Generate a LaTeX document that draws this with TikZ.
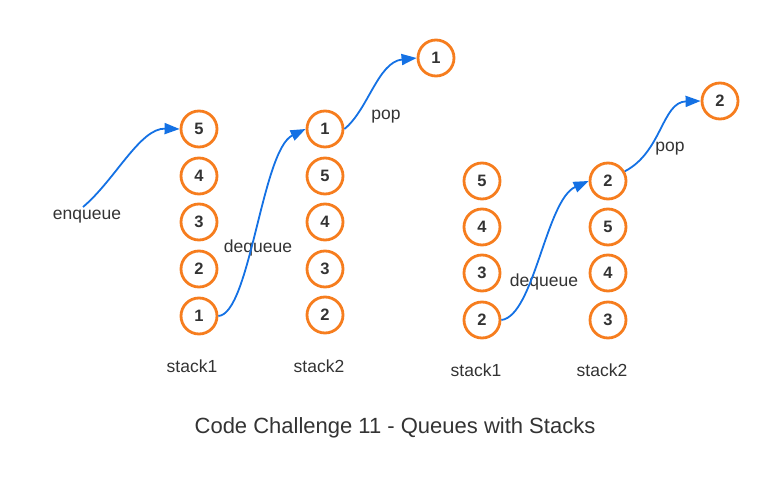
\documentclass[tikz,border=0pt]{standalone}
\usepackage{fontspec}
\setmainfont{Liberation Sans}
\usetikzlibrary{arrows.meta}
\definecolor{ringorange}{RGB}{246,125,30}
\definecolor{flowblue}{RGB}{20,113,228}
\definecolor{txtgray}{RGB}{51,51,51}
\begin{document}
\begin{tikzpicture}[x=1pt,y=-1pt,
  ball/.style={circle,draw=ringorange,line width=2.8pt,minimum size=36pt,inner sep=0pt,
    font=\fontsize{16.5}{16}\selectfont\bfseries,text=txtgray},
  lbl/.style={font=\fontsize{17.5}{18}\selectfont,text=txtgray,inner sep=0pt},
  flow/.style={draw=flowblue,line width=1.8pt,-{Triangle[length=15pt,width=11pt]}}]
\useasboundingbox (0,0) rectangle (779,494);
% left stack1
\node[ball] (a5) at (199,129) {5};
\node[ball] (a4) at (199,176) {4};
\node[ball] (a3) at (199,222) {3};
\node[ball] (a2) at (199,269) {2};
\node[ball] (a1) at (199,316) {1};
% left stack2
\node[ball] (b1) at (325,129) {1};
\node[ball] (b5) at (325,176) {5};
\node[ball] (b4) at (325,222) {4};
\node[ball] (b3) at (325,269) {3};
\node[ball] (b2) at (325,315) {2};
\node[ball] (t1) at (436,58) {1};
% right stack1
\node[ball] (c5) at (482,181) {5};
\node[ball] (c4) at (482,227) {4};
\node[ball] (c3) at (482,273) {3};
\node[ball] (c2) at (482,320) {2};
% right stack2
\node[ball] (d2) at (608,181) {2};
\node[ball] (d5) at (608,227) {5};
\node[ball] (d4) at (608,273) {4};
\node[ball] (d3) at (608,320) {3};
\node[ball] (t2) at (720,101) {2};
% labels
\node[lbl] (enq) at (87,217) {enqueue};
\node[lbl] (deq1) at (258,248) {dequeue};
\node[lbl] (pop1) at (386,117) {pop};
\node[lbl] (deq2) at (544,282) {dequeue};
\node[lbl] (pop2) at (670,149) {pop};
\node[lbl] (s1a) at (192,366) {stack1};
\node[lbl] (s2a) at (319,366) {stack2};
\node[lbl] (s1b) at (476,370) {stack1};
\node[lbl] (s2b) at (602,370) {stack2};
\node[font=\fontsize{22}{22}\selectfont,text=txtgray,inner sep=0pt] (title) at (395,428) {Code Challenge 11 - Queues with Stacks};
% connectors
\coordinate (enqstart) at (83,207);
\draw[flow] (enqstart) .. controls (115,180) and (140,128) .. (a5.west);
\draw[flow] (a1.east) .. controls (250,314) and (262,150) .. (b1.west);
\draw[flow] (b1.east) .. controls (368,110) and (378,62) .. (t1.west);
\draw[flow] (c2.east) .. controls (534,316) and (546,200) .. (d2.west);
\draw[flow] (d2.30) .. controls (662,152) and (662,102) .. (t2.west);
\end{tikzpicture}
\end{document}
